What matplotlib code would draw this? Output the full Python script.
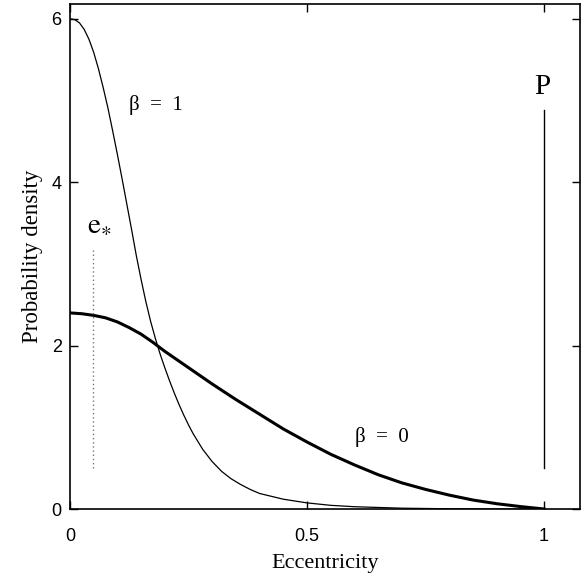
import matplotlib.pyplot as plt

plt.rcParams['mathtext.fontset'] = 'stix'

# beta = 0 curve (thick)
ecc_b0 = [0.0, 0.025, 0.05, 0.075, 0.10, 0.125, 0.15, 0.175, 0.20, 0.25,
          0.30, 0.35, 0.40, 0.45, 0.50, 0.55, 0.60, 0.65, 0.70, 0.75, 0.80,
          0.85, 0.90, 0.95, 1.0]
dens_b0 = [2.40, 2.39, 2.37, 2.34, 2.29, 2.22, 2.14, 2.04, 1.93, 1.73,
           1.53, 1.34, 1.16, 0.98, 0.82, 0.67, 0.54, 0.42, 0.32, 0.24, 0.17,
           0.11, 0.065, 0.03, 0.0]

# beta = 1 curve (thin)
ecc_b1 = [0.0, 0.01, 0.02, 0.03, 0.04, 0.05, 0.06, 0.07, 0.08, 0.09, 0.10,
          0.11, 0.12, 0.13, 0.14, 0.15, 0.16, 0.17, 0.18, 0.19, 0.20, 0.21,
          0.22, 0.23, 0.24, 0.25, 0.26, 0.28, 0.30, 0.32, 0.34, 0.36, 0.38,
          0.40, 0.45, 0.50, 0.55, 0.60, 0.70, 0.80, 0.90, 1.0]
dens_b1 = [6.0, 5.99, 5.95, 5.87, 5.75, 5.59, 5.39, 5.16, 4.91, 4.63, 4.34,
           4.04, 3.73, 3.42, 3.10, 2.81, 2.54, 2.30, 2.09, 1.90, 1.73, 1.57,
           1.42, 1.28, 1.15, 1.03, 0.92, 0.73, 0.58, 0.46, 0.37, 0.30, 0.24,
           0.19, 0.12, 0.075, 0.045, 0.028, 0.01, 0.003, 0.0, 0.0]

# vertical markers
e_star = 0.049
e_star_span = [0.5, 3.2]
p_ecc = 1.0
p_span = [0.5, 4.88]

xticks = [0, 0.5, 1]
xticklabels = ['0', '0.5', '1']
yticks = [0, 2, 4, 6]

fig = plt.figure(figsize=(5.83, 5.8), dpi=100)
ax = fig.add_axes([0.120, 0.1224, 0.875, 0.8706])

ax.plot(ecc_b0, dens_b0, color='black', lw=2.2)
ax.plot(ecc_b1, dens_b1, color='black', lw=0.9)
ax.plot([e_star, e_star], e_star_span, color='#777777', lw=1.0, ls=(0, (1, 2)))
ax.plot([p_ecc, p_ecc], p_span, color='black', lw=1.0)

serif = ['Liberation Serif', 'DejaVu Serif']
ax.text(0.1245, 4.88, 'β  =  1', fontsize=15, family=serif, ha='left', va='baseline')
ax.text(0.601, 0.82, 'β  =  0', fontsize=15, family=serif, ha='left', va='baseline')
ax.text(0.061, 3.49, r'$\mathrm{e}_{\ast}$', fontsize=21, ha='center', va='center')
ax.text(0.997, 5.17, 'P', fontsize=21, family=serif, ha='center', va='center')

ax.set_xlim(0, 1.076)
ax.set_ylim(0, 6.18)
ax.set_xticks(xticks)
ax.set_xticklabels(xticklabels)
ax.set_yticks(yticks)
ax.tick_params(direction='in', length=6, width=1, top=True, right=True,
               labelsize=13)
ax.tick_params(axis='x', pad=14)
ax.tick_params(axis='y', pad=6)
for lab in ax.get_xticklabels() + ax.get_yticklabels():
    lab.set_family('Liberation Sans')
for sp in ax.spines.values():
    sp.set_linewidth(1.2)

ax.set_xlabel('Eccentricity', fontsize=16, family=serif, labelpad=6)
ax.set_ylabel('Probability density', fontsize=16.5, family=serif, labelpad=6)

fig.savefig('out.png', dpi=100)
